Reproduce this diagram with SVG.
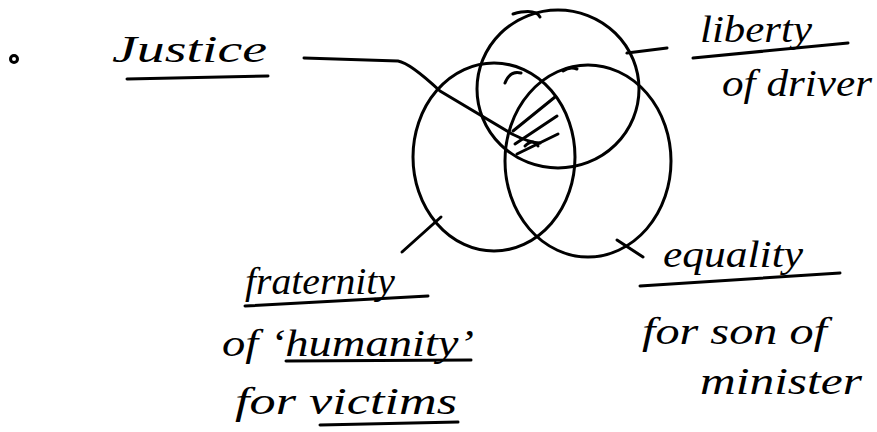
<svg xmlns="http://www.w3.org/2000/svg" width="877" height="432" viewBox="0 0 877 432">
<style>
.s{fill:none;stroke:#000;stroke-width:3;stroke-linecap:round;stroke-linejoin:round}
.t{font-family:"Liberation Serif",serif;font-style:italic;font-size:38px;fill:#000}
</style>
<rect width="877" height="432" fill="#fff"/>
<circle class="s" cx="14" cy="59" r="3.5" stroke-width="2"/>
<g id="venn">
  <g id="circle-liberty"><ellipse class="s" cx="558" cy="89" rx="81" ry="79"/><path class="s" d="M513,14 Q535,8 540,17"/></g>
  <g id="circle-fraternity"><ellipse class="s" cx="494" cy="157" rx="81" ry="94"/><path class="s" d="M505,83 Q510,70 521,73"/></g>
  <g id="circle-equality"><ellipse class="s" cx="588" cy="161" rx="83" ry="96"/><path class="s" d="M563,71 Q570,66 577,69"/></g>
  <g id="hatch">
    <path class="s" d="M513,131 L555,97"/>
    <path class="s" d="M515,144 L557,116"/>
    <path class="s" d="M517,154 L558,134"/>
    <path class="s" d="M525,146 Q533,138 538,146"/>
  </g>
</g>
<g id="node-justice">
  <text class="t" x="112" y="62" textLength="155" lengthAdjust="spacingAndGlyphs" font-size="46">Justice</text>
  <path class="s" d="M127,79 L268,76"/>
</g>
<g id="node-liberty">
  <text class="t" x="700" y="42" textLength="112" lengthAdjust="spacingAndGlyphs">liberty</text>
  <path class="s" d="M693,58 L848,43"/>
  <text class="t" x="722" y="96" textLength="150" lengthAdjust="spacingAndGlyphs">of driver</text>
</g>
<g id="node-fraternity">
  <text class="t" x="245" y="294" textLength="150" lengthAdjust="spacingAndGlyphs">fraternity</text>
  <path class="s" d="M245,306 L428,296"/>
  <text class="t" x="222" y="356" textLength="252" lengthAdjust="spacingAndGlyphs">of ‘humanity’</text>
  <path class="s" d="M286,361 L471,360"/>
  <text class="t" x="235" y="414" textLength="222" lengthAdjust="spacingAndGlyphs">for victims</text>
  <path class="s" d="M320,425 L458,422"/>
</g>
<g id="node-equality">
  <text class="t" x="663" y="267" textLength="140" lengthAdjust="spacingAndGlyphs">equality</text>
  <path class="s" d="M640,286 L840,273"/>
  <text class="t" x="642" y="344" textLength="185" lengthAdjust="spacingAndGlyphs">for son of</text>
  <text class="t" x="700" y="394" textLength="162" lengthAdjust="spacingAndGlyphs">minister</text>
</g>
<g id="connectors">
  <path class="s" d="M304,58 L398,61 Q410,63 440,91 L512,134 Q530,143 540,143"/>
  <path class="s" d="M627,53 L667,48"/>
  <path class="s" d="M402,252 L441,217"/>
  <path class="s" d="M617,240 L643,257"/>
</g>
</svg>
